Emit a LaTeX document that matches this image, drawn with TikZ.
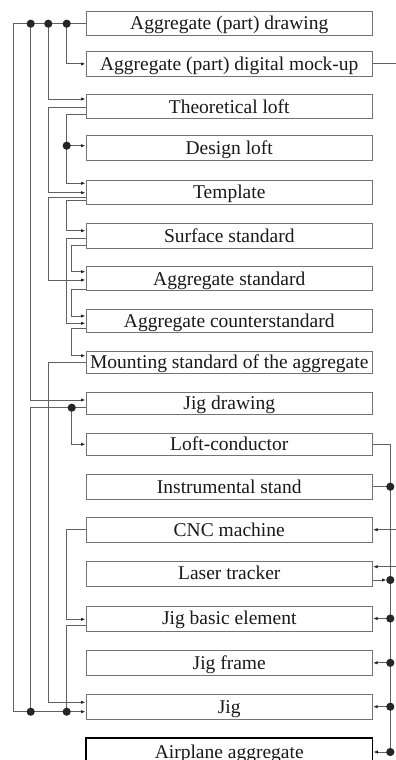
\documentclass[tikz,border=0pt]{standalone}
\usepackage{fontspec}
\setmainfont{Liberation Serif}
\usetikzlibrary{arrows.meta}
\begin{document}
\begin{tikzpicture}[x=1pt,y=-1pt,
  box/.style={draw=black!55,line width=1pt,fill=white,minimum width=286.5pt,
    inner sep=0pt,text height=12.6pt,text depth=0pt,
    font=\fontsize{19.5}{20}\selectfont,text=black!90},
  endbox/.style={box,draw=black,line width=1.7pt},
  wire/.style={draw=black!62,line width=0.95pt},
  arr/.style={-{Latex[length=4.5pt,width=3.4pt,color=black!85]}},
  dotc/.style={fill=black!85}]
\useasboundingbox (0,0) rectangle (396,760);
\clip (0,0) rectangle (396,760);

% blocks of the chain
\node[box,minimum height=24.5pt] (b1)  at (229.25,23.7)  {Aggregate (part) drawing};
\node[box,minimum height=24.3pt] (b2)  at (229.25,63.9)  {Aggregate (part) digital mock-up};
\node[box,minimum height=23.5pt] (b3)  at (229.25,106.7) {Theoretical loft};
\node[box,minimum height=24.5pt] (b4)  at (229.25,147.8) {Design loft};
\node[box,minimum height=24pt]   (b5)  at (229.25,192)   {Template};
\node[box,minimum height=25pt]   (b6)  at (229.25,235.8) {Surface standard};
\node[box,minimum height=24pt]   (b7)  at (229.25,278.7) {Aggregate standard};
\node[box,minimum height=22.7pt] (b8)  at (229.25,321.3) {Aggregate counterstandard};
\node[box,minimum height=21.8pt] (b9)  at (229.25,362.5) {Mounting standard of the aggregate};
\node[box,minimum height=22pt]   (b10) at (229.25,403.3) {Jig drawing};
\node[box,minimum height=22pt]   (b11) at (229.25,444.3) {Loft-conductor};
\node[box,minimum height=24.7pt] (b12) at (229.25,486.7) {Instrumental stand};
\node[box,minimum height=25.3pt] (b13) at (229.25,529.7) {CNC machine};
\node[box,minimum height=25pt]   (b14) at (229.25,573.5) {Laser tracker};
\node[box,minimum height=25pt]   (b15) at (229.25,618.5) {Jig basic element};
\node[box,minimum height=25.5pt] (b16) at (229.25,662.8) {Jig frame};
\node[box,minimum height=25.3pt] (b17) at (229.25,706.7) {Jig};
\node[endbox,minimum height=27.4pt] (b18) at (229.25,752) {Airplane aggregate};

% vertical bus lines
\coordinate (xa) at (13,0);
\coordinate (xb) at (30.7,0);
\coordinate (xc) at (48.3,0);
\coordinate (xd) at (66.7,0);
\coordinate (xe) at (71.7,0);
\coordinate (xr) at (390.3,0);
\coordinate (xedge) at (396,0);

% ports on the left sides
\coordinate (i3)  at ([yshift=7.7pt]b3.west);
\coordinate (o3a) at ([yshift=-0.3pt]b3.west);
\coordinate (o3b) at ([yshift=-7.6pt]b3.west);
\coordinate (i4)  at ([yshift=2.1pt]b4.west);
\coordinate (i5a) at ([yshift=8.7pt]b5.west);
\coordinate (i5b) at ([yshift=-0.7pt]b5.west);
\coordinate (o5a) at ([yshift=-5.3pt]b5.west);
\coordinate (o5b) at ([yshift=-8.7pt]b5.west);
\coordinate (i6)  at ([yshift=5.1pt]b6.west);
\coordinate (o6a) at ([yshift=-2.5pt]b6.west);
\coordinate (o6b) at ([yshift=-9.2pt]b6.west);
\coordinate (i7a) at ([yshift=7pt]b7.west);
\coordinate (i7b) at ([yshift=-1.3pt]b7.west);
\coordinate (o7)  at ([yshift=-10.3pt]b7.west);
\coordinate (i8a) at ([yshift=5.3pt]b8.west);
\coordinate (i8b) at ([yshift=-2pt]b8.west);
\coordinate (o8)  at ([yshift=-7pt]b8.west);
\coordinate (i9)  at ([yshift=6.8pt]b9.west);
\coordinate (i10) at ([yshift=3.3pt]b10.west);
\coordinate (o10) at ([yshift=-4.4pt]b10.west);
\coordinate (i15) at ([yshift=-0.8pt]b15.west);
\coordinate (o15) at ([yshift=-6.5pt]b15.west);
\coordinate (i17a) at ([yshift=4.4pt]b17.west);
\coordinate (i17b) at ([yshift=-5pt]b17.west);
% ports on the right sides
\coordinate (r14i) at ([yshift=6.8pt]b14.east);
\coordinate (r14o) at ([yshift=-6.5pt]b14.east);

% left-hand connectors
\draw[wire,arr] (b1.west) -- (xa |- b1.west) |- (i17b);
\draw[wire,arr] (xd |- b1.west) |- (b2.west);
\draw[wire,arr] (xc |- b1.west) |- (i3);
\draw[wire,arr] (xb |- b1.west) |- (i10);
\draw[wire,arr] (o3a) -- (xc |- o3a) |- (i5b);
\draw[wire,arr] (o3b) -- (xd |- o3b) |- (i5a);
\draw[wire,arr] (xd |- i4) -- (i4);
\draw[wire,arr] (o5a) -- (xc |- o5a) |- (i7b);
\draw[wire,arr] (o5b) -- (xd |- o5b) |- (i6);
\draw[wire,arr] (o6a) -- (xd |- o6a) |- (i8b);
\draw[wire,arr] (o6b) -- (xe |- o6b) |- (i7a);
\draw[wire,arr] (o7) -- (xe |- o7) |- (i8a);
\draw[wire,arr] (o8) -- (xe |- o8) |- (i9);
\draw[wire,arr] (b9.west) -- (xc |- b9.west) |- (i17a);
\draw[wire] (o10) -- (xb |- o10) -- (xb |- i17b);
\draw[wire,arr] (xe |- o10) |- (b11.west);
\draw[wire,arr] (b13.west) -- (xd |- b13.west) |- (i15);
\draw[wire] (o15) -- (xd |- o15) -- (xd |- i17b);

% right-hand connectors
\draw[wire] (b2.east) -- (xedge |- b2.east);
\draw[wire] (b11.east) -- (xr |- b11.east) -- (xr |- b18.east);
\draw[wire] (b12.east) -- (xr |- b12.east);
\draw[wire,arr,shorten >=3.8pt] (r14o) -- (xr |- r14o);
\draw[wire,arr] (xedge |- b13.east) -- (b13.east);
\draw[wire,arr] (xedge |- r14i) -- (r14i);
\draw[wire,arr] (xr |- b15.east) -- (b15.east);
\draw[wire,arr] (xr |- b16.east) -- (b16.east);
\draw[wire,arr] (xr |- b17.east) -- (b17.east);
\draw[wire,arr] (xr |- b18.east) -- (b18.east);

% junction dots
\foreach \p in {xb |- b1.west, xc |- b1.west, xd |- b1.west, xd |- i4,
    xe |- o10, xb |- i17b, xd |- i17b,
    xr |- b12.east, xr |- r14o, xr |- b15.east, xr |- b16.east,
    xr |- b17.east, xr |- b18.east}
  \fill[dotc] (\p) circle (4.1pt);
\end{tikzpicture}
\end{document}
